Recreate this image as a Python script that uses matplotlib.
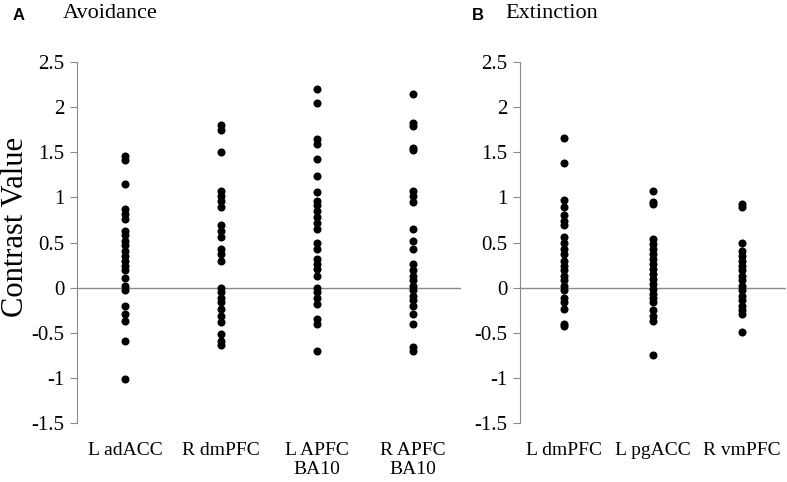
import matplotlib.pyplot as plt
import numpy as np

# values (contrast values per ROI)
avoid_labels = ['L adACC', 'R dmPFC', 'L APFC\nBA10', 'R APFC\nBA10']
l_adacc = [1.46, 1.41, 1.15, 0.87, 0.82, 0.76, 0.63, 0.58, 0.52, 0.47, 0.41,
           0.35, 0.30, 0.24, 0.19, 0.11, 0.02, -0.03, -0.20, -0.29, -0.37,
           -0.59, -1.01]
r_dmpfc = [1.80, 1.75, 1.50, 1.07, 1.02, 0.96, 0.89, 0.69, 0.63, 0.56, 0.43,
           0.37, 0.30, 0.00, -0.05, -0.11, -0.16, -0.24, -0.31, -0.38, -0.51,
           -0.59, -0.64]
l_apfc = [2.20, 2.05, 1.65, 1.59, 1.43, 1.24, 1.06, 0.96, 0.91, 0.85, 0.78,
          0.72, 0.65, 0.50, 0.43, 0.32, 0.26, 0.21, 0.13, 0.00, -0.05, -0.11,
          -0.18, -0.35, -0.40, -0.70]
r_apfc = [2.15, 1.82, 1.79, 1.55, 1.53, 1.07, 1.02, 0.95, 0.65, 0.52, 0.43,
          0.26, 0.19, 0.13, 0.08, 0.02, -0.03, -0.09, -0.14, -0.20, -0.29,
          -0.40, -0.66, -0.70]

ext_labels = ['L dmPFC', 'L pgACC', 'R vmPFC']
l_dmpfc = [1.66, 1.38, 0.97, 0.89, 0.80, 0.74, 0.69, 0.56, 0.50, 0.43, 0.37,
           0.30, 0.24, 0.19, 0.13, 0.08, 0.02, -0.03, -0.11, -0.16, -0.24,
           -0.40, -0.43]
l_pgacc = [1.07, 0.95, 0.93, 0.54, 0.48, 0.43, 0.37, 0.32, 0.26, 0.21, 0.15,
           0.10, 0.04, -0.01, -0.07, -0.12, -0.16, -0.25, -0.31, -0.37, -0.75]
r_vmpfc = [0.93, 0.89, 0.50, 0.41, 0.35, 0.30, 0.24, 0.19, 0.13, 0.08, 0.02,
           -0.03, -0.09, -0.14, -0.20, -0.25, -0.29, -0.49]

yticks = [-1.5, -1, -0.5, 0, 0.5, 1, 1.5, 2, 2.5]
ytick_labels = ['-1.5', '-1', '-0.5', '0', '0.5', '1', '1.5', '2', '2.5']

SERIF = 'Liberation Serif'
GREY = '#8a8a8a'


def dot_panel(ax, groups, labels):
    for i, vals in enumerate(groups):
        ax.plot(np.full(len(vals), i), vals, 'o', color='black',
                markersize=5.8, markeredgewidth=0)
    ax.axhline(0, color=GREY, lw=1, zorder=0)
    ax.set_xlim(-0.5, len(groups) - 0.5)
    ax.set_ylim(-1.5, 2.5)
    ax.set_yticks(yticks)
    ax.set_yticklabels(ytick_labels, family=SERIF, fontsize=15)
    ax.set_xticks(range(len(groups)))
    ax.set_xticklabels(labels, family=SERIF, fontsize=14, linespacing=1.1)
    ax.tick_params(axis='x', length=0, pad=14)
    ax.tick_params(axis='y', direction='out', length=5, color=GREY, pad=4)
    for side in ['top', 'right', 'bottom']:
        ax.spines[side].set_visible(False)
    ax.spines['left'].set_color(GREY)


fig = plt.figure(figsize=(7.87, 4.82), dpi=100)
ax_a = fig.add_axes([77 / 787, 1 - 423 / 482, 384 / 787, 361 / 482])
ax_b = fig.add_axes([520 / 787, 1 - 423 / 482, 266 / 787, 361 / 482])

dot_panel(ax_a, [l_adacc, r_dmpfc, l_apfc, r_apfc], avoid_labels)
dot_panel(ax_b, [l_dmpfc, l_pgacc, r_vmpfc], ext_labels)

fig.text(16 / 787, 1 - 227 / 482, 'Contrast Value', family=SERIF,
         fontsize=22, rotation=90, ha='center', va='center')

fig.text(13 / 787, 1 - 15 / 482, 'A', family='Liberation Sans',
         fontweight='bold', fontsize=12, va='center')
fig.text(63 / 787, 1 - 14 / 482, 'Avoidance', family=SERIF, fontsize=16,
         va='center')
fig.text(472 / 787, 1 - 15 / 482, 'B', family='Liberation Sans',
         fontweight='bold', fontsize=12, va='center')
fig.text(505 / 787, 1 - 14 / 482, 'Extinction', family=SERIF, fontsize=16,
         va='center')

fig.savefig('out.png', dpi=100)
